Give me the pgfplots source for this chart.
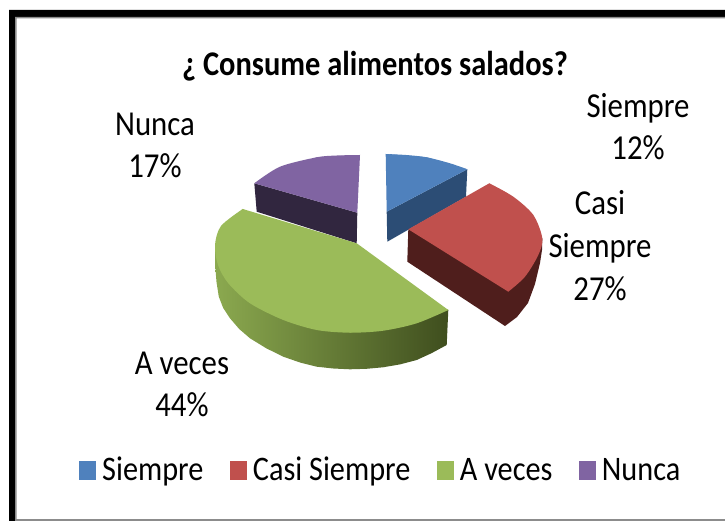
\documentclass[border=0pt]{standalone}
\usepackage{pgfplots}
\pgfplotsset{compat=1.18}
\usepackage{fontspec}
\setmainfont{Carlito}
\definecolor{cb}{HTML}{4F81BD}\definecolor{cbd}{HTML}{2C4D75}
\definecolor{cr}{HTML}{C0504D}\definecolor{crd}{HTML}{4F1E1C}
\definecolor{cg}{HTML}{9BBB59}\definecolor{cp}{HTML}{8064A2}\definecolor{cpd}{HTML}{31263F}
\definecolor{cgl}{HTML}{8BA94F}\definecolor{cgm}{HTML}{6A8340}\definecolor{cgd}{HTML}{3F4E1E}
\definecolor{fr}{HTML}{8C8C8C}
\newcommand{\lab}[1]{\scalebox{0.88}[1]{#1}}
\begin{document}
\begin{tikzpicture}
\begin{axis}[
  scale only axis, width=725pt, height=521pt,
  xmin=0, xmax=725, ymin=0, ymax=521, y dir=reverse,
  hide axis, clip=true,
  legend columns=4,
  legend style={at={(axis cs:79,469)},anchor=west,draw=none,fill=none,inner sep=0pt,
    font=\fontsize{34.4}{38}\selectfont,
    /tikz/every odd column/.append style={column sep=6pt},
    /tikz/every even column/.append style={column sep=26.5pt},
    nodes={inner sep=0pt, outer sep=0pt, anchor=base west}},
  legend image code/.code={\fill[#1] (0pt,0pt) rectangle (17pt,19pt);},
  every axis plot/.append style={forget plot, no markers, draw=none}
]
% page
\addplot[fill=white] coordinates {(0,0)(725,0)(725,521)(0,521)} --cycle;
% frame
\addplot[fill=black] coordinates {(9,10)(725,10)(725,17)(15,17)(15,521)(9,521)} --cycle;
\addplot[fill=fr] coordinates {(15,17)(725,17)(725,18.5)(16.5,18.5)(16.5,521)(15,521)} --cycle;
\addplot[fill=fr] coordinates {(15,518.5)(725,518.5)(725,521)(15,521)} --cycle;
% Nunca
\addplot[fill=cpd] coordinates {(254.3,183.3)(357.3,212.7)(356.7,243.3)(256.7,211.7)} --cycle;
\addplot[fill=cp,smooth] coordinates {(360,155)(337,155.5)(316.7,157.3)(280,166.7)(254.3,183.3)};
\addplot[fill=cp] coordinates {(360,155)(316.7,157.3)(254.3,183.3)(357.3,212.7)} --cycle;
% Siempre
\addplot[fill=cbd] coordinates {(386.7,211.7)(467.3,169.3)(466,196.7)(387.3,241.7)} --cycle;
\addplot[fill=cb,smooth] coordinates {(385.7,154)(406,155)(426.7,157.3)(450,163.3)(467.3,169.3)};
\addplot[fill=cb] coordinates {(385.7,154)(426.7,157.3)(467.3,169.3)(386.7,211.7)} --cycle;
% Casi Siempre
\addplot[fill=crd] coordinates {(542.3,238.3)(542,250)(540,263)(535,284)(528,303)(517,317)(505,326)(407.3,261.7)(408.3,229.3)} --cycle;
\addplot[fill=cr,smooth] coordinates {(489.3,183.3)(513.3,196.7)(533.3,215)(542.3,238.3)(538.3,255)(525,276.7)(508.3,291.7)};
\addplot[fill=cr] coordinates {(408.3,229.3)(489.3,183.3)(533.3,215)(508.3,291.7)} --cycle;
% A veces
\addplot[left color=cgl,middle color=cgm,right color=cgd,shade] coordinates {
 (448.3,310)(446.7,345)(431.5,353.2)(416.7,360)(400,364.4)(383,367.3)(366.5,368.8)(350,369.3)(333.3,368.5)(316.7,366.7)(300,362.5)(283.3,356.7)(266.3,348.3)(250,338.3)(239.2,329)(230,318.3)(223.2,308)(218.8,296.7)(216.5,282)(215.3,266.7)(215,245)(300,260)} --cycle;
\addplot[fill=cg,smooth] coordinates {(448.3,310)(416.7,323.3)(383.3,330.7)(350,332.7)(316.7,330)(283.3,320)(250,303.3)(228.3,283.3)(218,265)(215,245)(221,226)(242.7,209)};
\addplot[fill=cg] coordinates {(356.7,243.3)(448.3,310)(350,332.7)(215,245)(242.7,209)} --cycle;
% legend
\addlegendimage{fill=cb}\addlegendentry{\lab{Siempre}}
\addlegendimage{fill=cr}\addlegendentry{\lab{Casi Siempre}}
\addlegendimage{fill=cg}\addlegendentry{\lab{A veces}}
\addlegendimage{fill=cp}\addlegendentry{\lab{Nunca}}
% text
\node[font=\bfseries\fontsize{34.6}{40}\selectfont] at (axis cs:375,66) {\lab{¿ Consume alimentos salados?}};
\node[font=\fontsize{35}{42}\selectfont,align=center] at (axis cs:638,127) {\lab{Siempre}\\\lab{12\%}};
\node[font=\fontsize{35}{42}\selectfont,align=center] at (axis cs:155,145) {\lab{Nunca}\\\lab{17\%}};
\node[font=\fontsize{35}{43}\selectfont,align=center] at (axis cs:600,246) {\lab{Casi}\\\lab{Siempre}\\\lab{27\%}};
\node[font=\fontsize{35}{42}\selectfont,align=center] at (axis cs:182,384) {\lab{A veces}\\\lab{44\%}};
\end{axis}
\end{tikzpicture}
\end{document}
